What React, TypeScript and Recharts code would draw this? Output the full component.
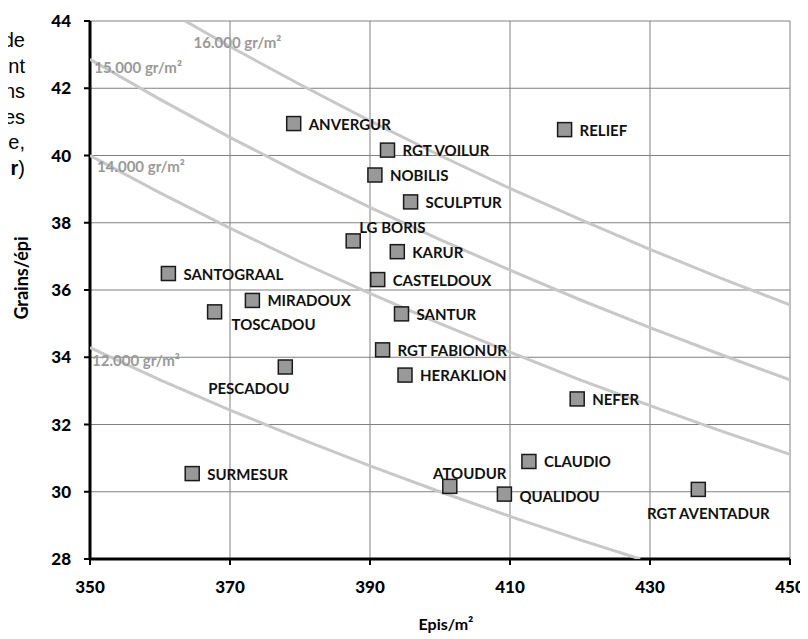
import { ScatterChart, Scatter, XAxis, YAxis, CartesianGrid, ReferenceDot, ReferenceLine, Label } from "recharts"

// variétés, épis/m² et grains/épi
const varieties = [
  "ANVERGUR", "RGT VOILUR", "NOBILIS", "SCULPTUR", "RELIEF", "LG BORIS", "KARUR",
  "SANTOGRAAL", "CASTELDOUX", "MIRADOUX", "TOSCADOU", "SANTUR", "RGT FABIONUR",
  "HERAKLION", "PESCADOU", "NEFER", "CLAUDIO", "ATOUDUR", "QUALIDOU", "RGT AVENTADUR", "SURMESUR",
]
const epis = [
  379.1, 392.5, 390.7, 395.8, 417.8, 387.6, 393.9,
  361.2, 391.1, 373.2, 367.8, 394.5, 391.8,
  395.0, 377.9, 419.6, 412.7, 401.4, 409.2, 436.9, 364.6,
]
const grains = [
  40.95, 40.16, 39.42, 38.62, 40.77, 37.46, 37.14,
  36.49, 36.31, 35.69, 35.35, 35.29, 34.22,
  33.47, 33.71, 32.76, 30.9, 30.16, 29.93, 30.07, 30.54,
]

// courbes iso-rendement (épis/m², grains/épi)
const iso16000 = [[363.6, 44], [370, 43.24], [380, 42.11], [390, 41.03], [400, 40], [410, 39.02], [420, 38.1], [430, 37.21], [440, 36.36], [450, 35.56]]
const iso15000 = [[350, 42.86], [360, 41.67], [370, 40.54], [380, 39.47], [390, 38.46], [400, 37.5], [410, 36.59], [420, 35.71], [430, 34.88], [440, 34.09], [450, 33.33]]
const iso14000 = [[350, 40], [360, 38.89], [370, 37.84], [380, 36.84], [390, 35.9], [400, 35], [410, 34.15], [420, 33.33], [430, 32.56], [440, 31.82], [450, 31.11]]
const iso12000 = [[350, 34.29], [360, 33.33], [370, 32.43], [380, 31.58], [390, 30.77], [400, 30], [410, 29.27], [420, 28.57], [428.6, 28]]
const isoNames = ["16.000 gr/m²", "15.000 gr/m²", "14.000 gr/m²", "12.000 gr/m²"]
const isoLabelAt = [[364.8, 43.38], [350.6, 42.63], [351.0, 39.69], [350.3, 33.92]]

const xTicks = [350, 370, 390, 410, 430, 450]
const yTicks = [28, 30, 32, 34, 36, 38, 40, 42, 44]

// bout de texte du document coupé à gauche
const sideText = ["de", "nt", "ns", "es", "e,"]

const points = varieties.map((name, i) => ({ name, x: epis[i], y: grains[i] }))
const toXY = (arr: number[][]) => arr.map(([x, y]) => ({ x, y }))
const isoCurves = [iso16000, iso15000, iso14000, iso12000].map(toXY)

const FONT = "Lato, 'Open Sans', sans-serif"

const placement: Record<string, { dx: number; dy: number; anchor: string }> = {
  "LG BORIS": { dx: 6, dy: -14, anchor: "start" },
  TOSCADOU: { dx: 17, dy: 12, anchor: "start" },
  PESCADOU: { dx: 4, dy: 21, anchor: "end" },
  ATOUDUR: { dx: 20, dy: -13, anchor: "middle" },
  "RGT AVENTADUR": { dx: 10, dy: 24, anchor: "middle" },
  QUALIDOU: { dx: 15, dy: 2, anchor: "start" },
}

function VarietyMark(props: any) {
  const { cx, cy, payload } = props
  const p = placement[payload.name] || { dx: 15, dy: 0, anchor: "start" }
  return (
    <g>
      <rect x={cx - 7} y={cy - 7} width={14} height={14} fill="#999999" stroke="#1a1a1a" strokeWidth={1.5} />
      <text
        x={cx + p.dx}
        y={cy + p.dy}
        textAnchor={p.anchor as any}
        dominantBaseline="central"
        fontFamily={FONT}
        fontWeight={700}
        fontSize={15}
        fill="#111"
      >
        {payload.name}
      </text>
    </g>
  )
}

const NoDot = () => <g />

function XTick(props: any) {
  return (
    <text x={props.x} y={props.y} dy="0.71em" textAnchor="middle" fontFamily={FONT} fontWeight={900} fontSize={17} fill="#000">
      {props.payload.value}
    </text>
  )
}

function YTick(props: any) {
  return (
    <text x={props.x} y={props.y} dy="0.355em" textAnchor="end" fontFamily={FONT} fontWeight={900} fontSize={17} fill="#000">
      {props.payload.value}
    </text>
  )
}

export default function App() {
  return (
    <div style={{ position: "relative", width: 800, height: 625 }}>
      <div style={{ position: "absolute", left: -8, top: -3, width: 53, height: 2, background: "#999" }} />
      <div
        style={{
          position: "absolute",
          left: -8,
          top: 20,
          width: 25,
          textAlign: "right",
          whiteSpace: "nowrap",
          fontFamily: "'Liberation Sans', Arial, sans-serif",
          fontSize: 20,
          lineHeight: "25.5px",
          color: "#000",
        }}
      >
        {sideText.map((t) => (
          <div key={t}>{t}</div>
        ))}
        <div>
          <b>r</b>)
        </div>
      </div>
      <ScatterChart width={800} height={625} margin={{ top: 13, right: 18, bottom: 34, left: 0 }}>
        <CartesianGrid stroke="#808080" strokeWidth={1} />
        <XAxis
          type="number"
          dataKey="x"
          domain={[350, 450]}
          ticks={xTicks}
          allowDataOverflow
          height={40}
          stroke="#000"
          strokeWidth={2}
          tickSize={6}
          tickMargin={16}
          tick={<XTick />}
        >
          <Label
            content={(props: any) => {
              const vb = props.viewBox
              return (
                <text x={vb.x + vb.width / 2 + 6} y={vb.y + 64} textAnchor="middle" dominantBaseline="central" fontFamily={FONT} fontWeight={700} fontSize={16} fill="#000">
                  Epis/m²
                </text>
              )
            }}
          />
        </XAxis>
        <YAxis
          type="number"
          dataKey="y"
          domain={[28, 44]}
          ticks={yTicks}
          allowDataOverflow
          width={82}
          stroke="#000"
          strokeWidth={2}
          tickSize={6}
          tickMargin={13}
          tick={<YTick />}
        >
          <Label
            content={(props: any) => {
              const vb = props.viewBox
              const cx = vb.x + 13
              const cy = vb.y + vb.height / 2 - 12
              return (
                <text x={cx} y={cy} transform={`rotate(-90 ${cx} ${cy})`} textAnchor="middle" dominantBaseline="central" fontFamily={FONT} fontWeight={700} fontSize={18} fill="#000">
                  Grains/épi
                </text>
              )
            }}
          />
        </YAxis>
        {isoCurves.map((c, i) => (
          <Scatter
            key={isoNames[i]}
            data={c}
            line={{ stroke: "#c8c8c8", strokeWidth: 3 }}
            lineType="joint"
            shape={NoDot}
            isAnimationActive={false}
          />
        ))}
        {isoLabelAt.map(([x, y], i) => (
          <ReferenceDot
            key={isoNames[i]}
            x={x}
            y={y}
            r={0}
            shape={(p: any) => (
              <text x={p.cx} y={p.cy} dominantBaseline="central" fontFamily={FONT} fontWeight={700} fontSize={15} fill="#999">
                {isoNames[i]}
              </text>
            )}
          />
        ))}
        <ReferenceLine x={350} stroke="#000" strokeWidth={3} ifOverflow="visible" />
        <ReferenceLine y={28} stroke="#000" strokeWidth={3} ifOverflow="visible" />
        <Scatter data={points} shape={VarietyMark} isAnimationActive={false} />
      </ScatterChart>
    </div>
  )
}
